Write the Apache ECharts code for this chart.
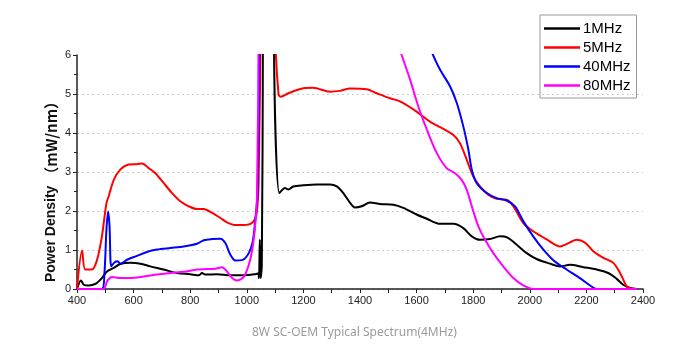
<!DOCTYPE html>
<html>
<head>
<meta charset="utf-8">
<script src="https://cdn.jsdelivr.net/npm/echarts@6/dist/echarts.min.js"></script>
<style>
html, body { margin: 0; padding: 0; background: #fff; }
#main { width: 677px; height: 352px; }
</style>
</head>
<body>
<div id="main"></div>
<script>
// wavelength (nm), power density (mW/nm)
const mhz1 = [[400,0],[402,0],[414,0.22],[424,0.11],[441,0.09],[465,0.13],[488,0.28],[506,0.45],[530,0.54],[553,0.64],[588,0.67],[624,0.65],[659,0.58],[706,0.50],[753,0.41],[800,0.38],[830,0.35],[842,0.41],[853,0.37],[895,0.38],[942,0.35],[989,0.35],[1030,0.38],[1040,0.40],[1043,0.28],[1046,1.26],[1049,0.28],[1053,0.6],[1057,6.5],[1064,40],[1096,6.2],[1115,2.46],[1135,2.59],[1147,2.55],[1164,2.63],[1200,2.66],[1247,2.68],[1294,2.68],[1318,2.63],[1341,2.46],[1365,2.21],[1382,2.09],[1406,2.12],[1435,2.22],[1471,2.18],[1518,2.16],[1553,2.08],[1600,1.91],[1636,1.80],[1683,1.67],[1730,1.67],[1765,1.56],[1795,1.35],[1824,1.26],[1859,1.28],[1895,1.35],[1918,1.33],[1953,1.14],[1989,0.92],[2024,0.77],[2071,0.65],[2107,0.58],[2142,0.62],[2189,0.56],[2236,0.50],[2277,0.41],[2307,0.26],[2330,0.11],[2354,0.03],[2377,0]];
const mhz5 = [[400,0],[402,0],[418,0.99],[429,0.5],[453,0.5],[471,0.75],[488,1.35],[504,2.2],[512,2.38],[530,2.8],[553,3.06],[583,3.19],[612,3.2],[630,3.22],[653,3.1],[677,2.97],[706,2.72],[736,2.46],[765,2.25],[795,2.12],[824,2.05],[848,2.05],[877,1.95],[907,1.82],[930,1.71],[960,1.64],[989,1.64],[1018,1.69],[1034,1.9],[1042,2.8],[1050,8],[1064,40],[1101,6.5],[1112,5.0],[1120,4.93],[1147,5.02],[1200,5.15],[1234,5.16],[1294,5.06],[1329,5.08],[1365,5.14],[1424,5.12],[1459,5.02],[1506,4.89],[1541,4.81],[1600,4.55],[1647,4.29],[1683,4.15],[1730,3.95],[1753,3.74],[1777,3.32],[1800,2.89],[1824,2.63],[1853,2.42],[1883,2.31],[1918,2.29],[1942,2.12],[1977,1.69],[2012,1.48],[2060,1.27],[2107,1.09],[2130,1.15],[2166,1.26],[2195,1.19],[2224,0.97],[2260,0.80],[2295,0.67],[2319,0.41],[2342,0.07],[2354,0.02],[2380,0]];
const mhz40 = [[400,0],[488,0],[497,0.41],[504,1.52],[510,1.99],[515,1.61],[521,0.58],[532,0.68],[544,0.71],[553,0.65],[577,0.75],[612,0.85],[647,0.95],[683,1.01],[730,1.05],[777,1.09],[824,1.16],[848,1.25],[877,1.28],[907,1.29],[924,1.18],[942,0.88],[960,0.73],[983,0.74],[1007,0.92],[1022,1.26],[1030,1.78],[1038,2.46],[1046,7],[1064,40],[1100,30],[1600,7],[1655,6.05],[1683,5.62],[1718,5.2],[1742,4.77],[1765,4.17],[1783,3.57],[1795,3.06],[1812,2.72],[1848,2.46],[1883,2.33],[1918,2.27],[1948,2.12],[1977,1.74],[2012,1.35],[2048,1.01],[2083,0.74],[2130,0.5],[2177,0.28],[2213,0.09],[2236,0],[2380,0]];
const mhz80 = [[400,0],[494,0],[500,0.07],[508,0.22],[524,0.31],[553,0.28],[588,0.28],[636,0.32],[683,0.37],[730,0.41],[777,0.44],[824,0.5],[859,0.51],[889,0.52],[912,0.56],[930,0.45],[948,0.28],[965,0.22],[989,0.31],[1012,0.75],[1027,1.44],[1036,2.38],[1042,7],[1064,40],[1100,30],[1500,7],[1547,6],[1577,5.37],[1606,4.68],[1636,4.09],[1671,3.49],[1706,3.10],[1736,2.97],[1759,2.80],[1777,2.55],[1795,2.12],[1818,1.61],[1842,1.26],[1871,0.92],[1906,0.58],[1942,0.28],[1977,0.09],[2012,0],[2380,0]];

const names = ['1MHz', '5MHz', '40MHz', '80MHz'];
const colors = ['#000000', '#ff0000', '#0000ff', '#ff00ff'];
const seriesData = [mhz1, mhz5, mhz40, mhz80];

let chart = echarts.init(document.getElementById('main'));

let option = {
    backgroundColor: '#fff',
    animation: false,
    title: {
        text: '8W SC-OEM Typical Spectrum(4MHz)',
        left: 247,
        top: 322,
        textStyle: {
            color: '#9a9a9a',
            fontSize: 12,
            fontWeight: 'normal',
            fontFamily: 'Noto Sans'
        }
    },
    // y axis title, placed by hand (it sits lower than the axis middle)
    graphic: [{
        type: 'text',
        x: 51,
        y: 188,
        rotation: Math.PI / 2,
        style: {
            text: '{a|Power Density }{b|（mW/nm）}',
            align: 'center',
            verticalAlign: 'middle',
            rich: {
                a: { fontSize: 14, fontWeight: 'bold', fontFamily: 'Liberation Sans', fill: '#111' },
                b: { fontSize: 15, fontWeight: 'bold', fontFamily: 'Noto Sans CJK SC', fill: '#111' }
            }
        }
    }],
    legend: {
        orient: 'vertical',
        left: 540,
        top: 15,
        padding: [5, 6, 4, 4],
        icon: 'rect',
        itemWidth: 36,
        itemHeight: 2.5,
        itemGap: 2,
        borderColor: '#999',
        borderWidth: 1,
        borderRadius: 0,
        textStyle: {
            color: '#000',
            fontSize: 15,
            lineHeight: 17,
            fontFamily: 'Liberation Sans',
            padding: [0, 0, 0, -2]
        },
        data: names
    },
    grid: {
        left: 77,
        right: 34,
        top: 55,
        bottom: 63
    },
    xAxis: {
        type: 'value',
        min: 400,
        max: 2400,
        interval: 200,
        axisLine: { lineStyle: { color: '#222', width: 1.5 } },
        axisTick: { show: true, length: 4, lineStyle: { color: '#222' } },
        minorTick: { show: true, splitNumber: 2, length: 4, lineStyle: { color: '#222' } },
        axisLabel: {
            color: '#222', fontSize: 11, fontFamily: 'Liberation Sans', margin: 6,
            formatter: function (v) { return String(v); }
        },
        splitLine: { show: false }
    },
    yAxis: {
        type: 'value',
        min: 0,
        max: 6,
        interval: 1,
        axisLine: { show: true, lineStyle: { color: '#222', width: 1.5 } },
        axisTick: { show: true, length: 4, lineStyle: { color: '#222' } },
        minorTick: { show: true, splitNumber: 2, length: 3, lineStyle: { color: '#222' } },
        axisLabel: { color: '#222', fontSize: 11, fontFamily: 'Liberation Sans', margin: 6 },
        splitLine: {
            show: true,
            lineStyle: {
                type: [2, 3],
                color: ['#ccc', '#ccc', '#ccc', '#ccc', '#ccc', '#ccc', 'rgba(0,0,0,0)']
            }
        }
    },
    series: names.map(function (n, i) {
        return {
            name: n,
            type: 'line',
            symbol: 'none',
            smooth: 0.3,
            clip: true,
            lineStyle: { color: colors[i], width: 2 },
            itemStyle: { color: colors[i] },
            data: seriesData[i]
        };
    })
};

chart.setOption(option);
</script>
</body>
</html>
